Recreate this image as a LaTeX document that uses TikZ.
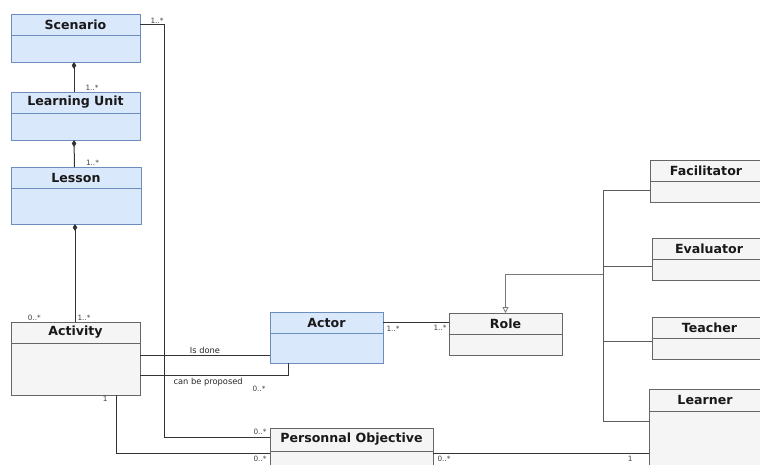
\documentclass[tikz,border=0pt]{standalone}
\usepackage{fontspec}
\setmainfont{DejaVu Sans}
\usetikzlibrary{arrows.meta, positioning}
\definecolor{clsblue}{RGB}{218, 232, 252}
\definecolor{clsblueline}{RGB}{108, 142, 191}
\definecolor{clsgray}{RGB}{245, 245, 245}
\definecolor{clsgrayline}{RGB}{102, 102, 102}
\definecolor{wire}{RGB}{51, 51, 51}
\definecolor{genwire}{RGB}{120, 120, 120}
\tikzset{
  bluebox/.style  = {rectangle, anchor=north west, draw=clsblueline, fill=clsblue, line width=0.8pt, inner sep=0pt, outer sep=0pt},
  graybox/.style  = {rectangle, anchor=north west, draw=clsgrayline, fill=clsgray, line width=0.8pt, inner sep=0pt, outer sep=0pt},
  bluehead/.style = {bluebox, minimum height=21pt, font=\fontsize{12.6}{14}\selectfont\bfseries, text=black!90},
  grayhead/.style = {graybox, minimum height=21pt, font=\fontsize{12.6}{14}\selectfont\bfseries, text=black!90},
  assoc/.style    = {draw=wire, line width=1pt},
  comp/.style     = {assoc, -{Diamond[length=7pt, width=4.5pt]}},
  genline/.style  = {draw=wire!80, line width=1pt},
  genarrow/.style = {draw=genwire, line width=0.8pt, -{Triangle[open, length=6pt, width=6pt]}},
  mult/.style     = {font=\fontsize{7.3}{8}\selectfont, text=black!75, inner sep=1pt},
  rolelbl/.style  = {font=\fontsize{8.3}{9}\selectfont, text=black!85, inner sep=1pt},
}
\begin{document}
\begin{tikzpicture}[x=1pt, y=-1pt]
\clip (0,0) rectangle (760,464);

% ================= Scenario / Learning Unit / Lesson =================
\node (scenario)  [bluebox, minimum width=129pt, minimum height=48pt] at (11, 14) {};
\node (scenarioh) [bluehead, minimum width=129pt] at (scenario.north west) {Scenario};
\node (learning)  [bluebox, minimum width=129pt, minimum height=48pt] at (11, 92) {};
\node (learningh) [bluehead, minimum width=129pt] at (learning.north west) {Learning Unit};
\node (lesson)    [bluebox, minimum width=130pt, minimum height=57pt] at (11, 167) {};
\node (lessonh)   [bluehead, minimum width=130pt] at (lesson.north west) {Lesson};

% ================= Activity / Actor / Role =================
\node (activity)  [graybox, minimum width=129pt, minimum height=73pt] at (11, 322) {};
\node (activityh) [grayhead, minimum width=129pt] at (activity.north west) {Activity};
\node (actor)     [bluebox, minimum width=113pt, minimum height=51pt] at (270, 312) {};
\node (actorh)    [bluehead, minimum width=113pt] at (actor.north west) {Actor};
\node (role)      [graybox, minimum width=113pt, minimum height=42pt] at (449, 313) {};
\node (roleh)     [grayhead, minimum width=113pt] at (role.north west) {Role};
\node (objective)  [graybox, minimum width=163pt, minimum height=60pt] at (270, 428) {};
\node (objectiveh) [grayhead, minimum width=163pt, minimum height=23pt] at (objective.north west) {Personnal Objective};

% ================= Role subclasses =================
\node (facil)      [graybox, minimum width=112pt, minimum height=42pt] at (650, 160) {};
\node (facilh)     [grayhead, minimum width=112pt] at (facil.north west) {Facilitator};
\node (evaluator)  [graybox, minimum width=114pt, minimum height=42pt] at (652, 238) {};
\node (evaluatorh) [grayhead, minimum width=114pt] at (evaluator.north west) {Evaluator};
\node (teacher)    [graybox, minimum width=115pt, minimum height=42pt] at (652, 317) {};
\node (teacherh)   [grayhead, minimum width=115pt] at (teacher.north west) {Teacher};
\node (learner)    [graybox, minimum width=112pt, minimum height=90pt] at (649, 389) {};
\node (learnerh)   [grayhead, minimum width=112pt, minimum height=22pt] at (learner.north west) {Learner};

% ================= Composition =================
\draw [comp] ([xshift=-1.5pt]learning.north) -- ([xshift=-1.5pt]scenario.south)
  node[pos=0, mult, anchor=south west, xshift=10pt] {1..*};
\draw [comp] ([xshift=-1.5pt]lesson.north) -- ([xshift=-1.5pt]learning.south)
  node[pos=0, mult, anchor=south west, xshift=10pt] {1..*};
\draw [comp] ([xshift=-0.5pt]activity.north) -- ([xshift=-1pt]lesson.south)
  node[pos=0, mult, anchor=south west, xshift=1pt] {1..*};
\node [mult, anchor=south east] at ([xshift=31pt]activity.north west) {0..*};

% ================= Associations =================
\draw [assoc] (scenarioh.east) -- ++(24,0) |- ([yshift=2pt]objectiveh.west)
  node[pos=0, mult, anchor=south west, xshift=-15pt] {1..*}
  node[pos=1, mult, anchor=south east, xshift=-2pt, yshift=1pt] {0..*};
\draw [assoc] ([yshift=3.5pt]activity.east) -- ([yshift=3.5pt]activity.east -| actor.west)
  node[midway, above, rolelbl] {Is done};
\draw [assoc] ([yshift=-16.5pt]activity.east) -| ([xshift=-38.5pt]actor.south)
  node[pos=0, rolelbl, anchor=north west, xshift=32pt, yshift=-2pt] {can be proposed};
\node [mult] at ([xshift=-67.5pt, yshift=-26pt]actor.south) {0..*};
\draw [assoc] ([xshift=40.5pt]activity.south) |- ([yshift=5pt]objective.west)
  node[pos=0, mult, anchor=north east, xshift=-7pt] {1}
  node[pos=1, mult, anchor=north east, xshift=-2pt, yshift=-2pt] {0..*};
\draw [assoc] (actorh.east) -- (actorh.east -| role.west)
  node[pos=0, mult, anchor=north west, xshift=2pt, yshift=-2pt] {1..*}
  node[pos=1, mult, anchor=north east, xshift=-1pt, yshift=-1pt] {1..*};
\draw [assoc] ([yshift=5pt]objective.east) -- ([yshift=5pt]objective.east -| learner.west)
  node[pos=0, mult, anchor=north west, xshift=3pt, yshift=-2pt] {0..*}
  node[pos=1, mult, anchor=north east, xshift=-15pt, yshift=-2pt] {1};

% ================= Generalization =================
\coordinate (bus) at (603, 274);
\draw [genarrow] (bus) -| (role.north);
\draw [genline] ([yshift=-9pt]facil.west) -| (bus);
\draw [genline] ([yshift=-7pt]evaluator.west) -- ([yshift=-7pt]evaluator.west -| bus);
\draw [genline] ([yshift=-3pt]teacher.west) -- ([yshift=-3pt]teacher.west -| bus);
\draw [genline] ([yshift=13pt]learner.west) -| (bus);

\end{tikzpicture}
\end{document}
